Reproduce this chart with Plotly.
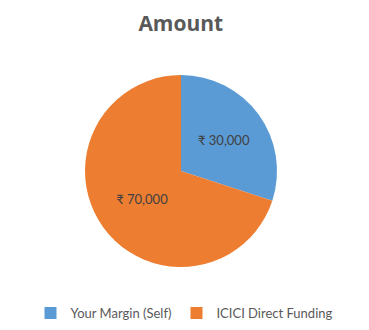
import plotly.graph_objects as go

categories = ["Your Margin (Self)", "ICICI Direct Funding"]
amounts = [30000, 70000]
label_text = ["₹ 30,000", "₹ 70,000"]
colors = ["#5B9BD5", "#ED7D31"]

W, H = 369, 330
fig = go.Figure(go.Pie(
    labels=categories,
    values=amounts,
    text=label_text,
    textinfo="text",
    textposition="inside",
    insidetextorientation="horizontal",
    sort=False,
    direction="clockwise",
    rotation=0,
    marker=dict(colors=colors, line=dict(color="white", width=0)),
    textfont=dict(family="Lato, Noto Sans, sans-serif", size=13, color="#404040"),
    hoverinfo="label+value",
    domain=dict(x=[85 / W, 277 / W], y=[1 - 267 / H, 1 - 75 / H]),
))

fig.update_layout(
    width=W, height=H,
    margin=dict(l=0, r=0, t=0, b=0),
    paper_bgcolor="white",
    plot_bgcolor="white",
    title=dict(text="<b>Amount</b>", x=0.49, xanchor="center", y=1 - 24 / H, yanchor="middle",
               font=dict(family="Open Sans, sans-serif", size=21, color="#595959")),
    legend=dict(orientation="h", x=0.5, xanchor="center", y=1 - 313 / H, yanchor="middle",
                font=dict(family="Lato, Noto Sans, sans-serif", size=13, color="#595959"),
                itemwidth=30, traceorder="normal"),
    showlegend=True,
)

fig.write_html("out.html")
